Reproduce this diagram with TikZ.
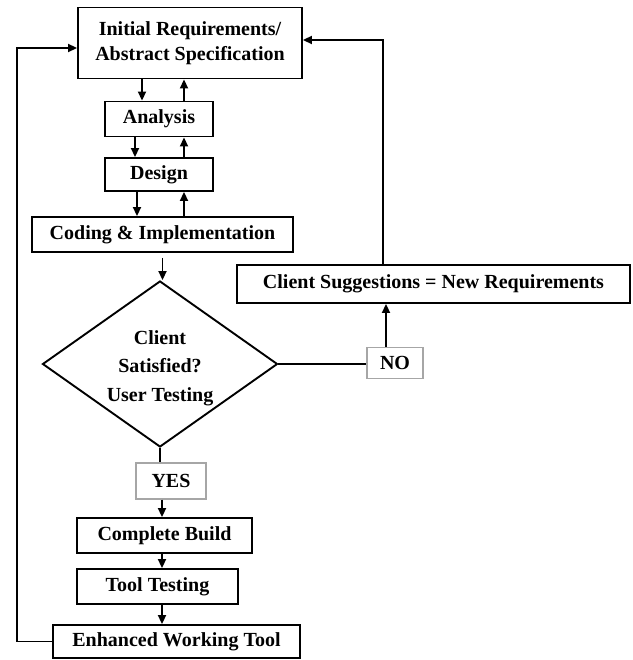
\documentclass[tikz,border=0pt]{standalone}
\usepackage{fontspec}
\setmainfont{Liberation Serif}
\usetikzlibrary{arrows.meta,shapes.geometric,calc}
\begin{document}
\begin{tikzpicture}[x=1pt,y=-1pt,
  box/.style={draw,line width=1.9pt,minimum width=#1,inner sep=0pt,
    font=\fontsize{20}{25}\selectfont\bfseries,align=center},
  lbl/.style={draw=gray!70,line width=1.2pt,inner sep=0pt,
    font=\fontsize{20}{25}\selectfont\bfseries},
  arr/.style={line width=1.9pt,-{Triangle[length=9pt,width=8pt]}},
  ln/.style={line width=1.9pt}]
\useasboundingbox (0,0) rectangle (632,660);
\node[box=224pt,minimum height=71pt] (top) at (190,43) {Initial Requirements/\\Abstract Specification};
\node[box=108pt,minimum height=35pt] (ana) at (159,119) {Analysis};
\node[box=108pt,minimum height=33pt] (des) at (159,174.5) {Design};
\node[box=261pt,minimum height=35pt] (cod) at (162.5,234.5) {Coding \& Implementation};
\node[draw,shape=diamond,line width=1.9pt,minimum width=235pt,minimum height=166pt,inner sep=0pt] (dia) at (160,364) {};
\node[font=\fontsize{20}{28.5}\selectfont\bfseries,align=center,inner sep=0pt] (diatxt) at ([yshift=-4pt]dia.center) {Client\\Satisfied?\\User Testing};
\node[box=393pt,minimum height=38pt] (cli) at (433.5,284) {Client Suggestions = New Requirements};
\node[lbl,minimum width=56pt,minimum height=31pt] (no) at (395,363) {NO};
\node[lbl,minimum width=70pt,minimum height=36pt] (yes) at (171,481) {YES};
\node[box=175pt,minimum height=35pt] (cb) at (164.5,535.5) {Complete Build};
\node[box=161pt,minimum height=35pt] (tt) at (157.5,586.5) {Tool Testing};
\node[box=247pt,minimum height=33pt] (ewt) at (176.5,641.5) {Enhanced Working Tool};
% top <-> analysis
\draw[arr] ([xshift=-17pt]ana.north |- top.south) -- ([xshift=-17pt]ana.north);
\draw[arr] ([xshift=25pt]ana.north) -- ([xshift=25pt]ana.north |- top.south);
% analysis <-> design
\draw[arr] ([xshift=-24pt]des.north |- ana.south) -- ([xshift=-24pt]des.north);
\draw[arr] ([xshift=25pt]des.north) -- ([xshift=25pt]des.north |- ana.south);
% design <-> coding
\draw[arr] ([xshift=-22pt]des.south) -- ([xshift=-22pt]des.south |- cod.north);
\draw[arr] ([xshift=25pt]des.south |- cod.north) -- ([xshift=25pt]des.south);
% coding -> diamond
\draw[arr,shorten <=5pt] (cod.south) -- (cod.south |- dia.north);
% diamond -> NO -> client -> top
\draw[ln] (dia.east) -- (dia.east -| no.west);
\draw[arr] ([xshift=-9pt]no.north) -- ([xshift=-9pt]no.north |- cli.south);
\coordinate (tr) at ([yshift=3pt]top.east);
\draw[arr] ([xshift=-50.5pt]cli.north) |- (tr);
% diamond -> YES -> build chain
\draw[ln] (dia.south) -- (dia.south |- yes.north);
\draw[arr] ([xshift=-9pt]yes.south) -- ([xshift=-9pt]yes.south |- cb.north);
\draw[arr] ([xshift=-2.5pt]cb.south) -- ([xshift=-2.5pt]cb.south |- tt.north);
\draw[arr] ([xshift=4.5pt]tt.south) -- ([xshift=4.5pt]tt.south |- ewt.north);
% loop back
\coordinate (lx) at (17,48);
\coordinate (tl) at ([yshift=-5pt]top.west);
\draw[arr] (ewt.west) -| (lx) |- (tl);
\end{tikzpicture}
\end{document}
